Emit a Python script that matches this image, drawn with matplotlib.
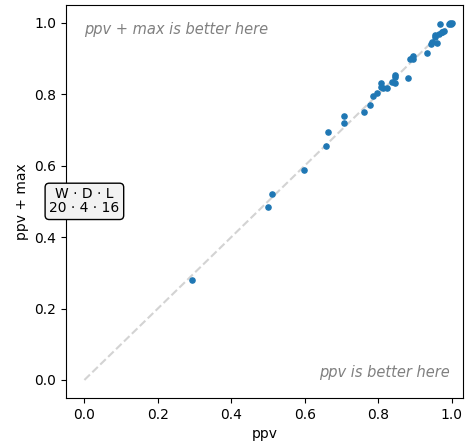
import matplotlib
matplotlib.use('Agg')
import matplotlib.pyplot as plt

# ppv score vs ppv + max score per game
ppv = [0.292, 0.499, 0.512, 0.597, 0.659, 0.662, 0.706, 0.706, 0.760, 0.777,
       0.787, 0.796, 0.807, 0.807, 0.812, 0.823, 0.837, 0.845, 0.847, 0.847,
       0.880, 0.886, 0.894, 0.896, 0.891, 0.932, 0.943, 0.946, 0.959, 0.956,
       0.965, 0.973, 0.978, 0.967, 0.997, 0.992, 0.995, 0.975, 0.956, 1.0]
ppv_max = [0.279, 0.483, 0.522, 0.589, 0.656, 0.693, 0.718, 0.740, 0.751, 0.771,
           0.796, 0.802, 0.830, 0.821, 0.818, 0.816, 0.835, 0.855, 0.849, 0.830,
           0.844, 0.899, 0.908, 0.899, 0.902, 0.916, 0.941, 0.947, 0.944, 0.966,
           0.969, 0.975, 0.978, 0.997, 0.997, 0.997, 1.0, 0.975, 0.961, 1.0]
wdl = (20, 4, 16)

fig = plt.figure(figsize=(4.65, 4.45), dpi=100)
ax = fig.add_axes([0.142, 0.106, 0.853, 0.883])

ax.plot([0, 1], [0, 1], ls='--', color='lightgray', zorder=1)
ax.scatter(ppv, ppv_max, s=14, color='#1f77b4', zorder=2)

ax.text(0.0, 0.98, 'ppv + max is better here', style='italic', color='gray',
        ha='left', va='center', fontsize=10.5)
ax.text(0.995, 0.022, 'ppv is better here', style='italic', color='gray',
        ha='right', va='center', fontsize=10.5)
ax.text(0.0, 0.5, 'W · D · L\n%d · %d · %d' % wdl, ha='center', va='center',
        fontsize=10, linespacing=1.0,
        bbox=dict(boxstyle='round', facecolor='#f2f2f2', edgecolor='black'))

ax.set_xlim(-0.05, 1.03)
ax.set_ylim(-0.05, 1.05)
ax.set_xlabel('ppv')
ax.set_ylabel('ppv + max')

fig.savefig('out.png', dpi=100)
